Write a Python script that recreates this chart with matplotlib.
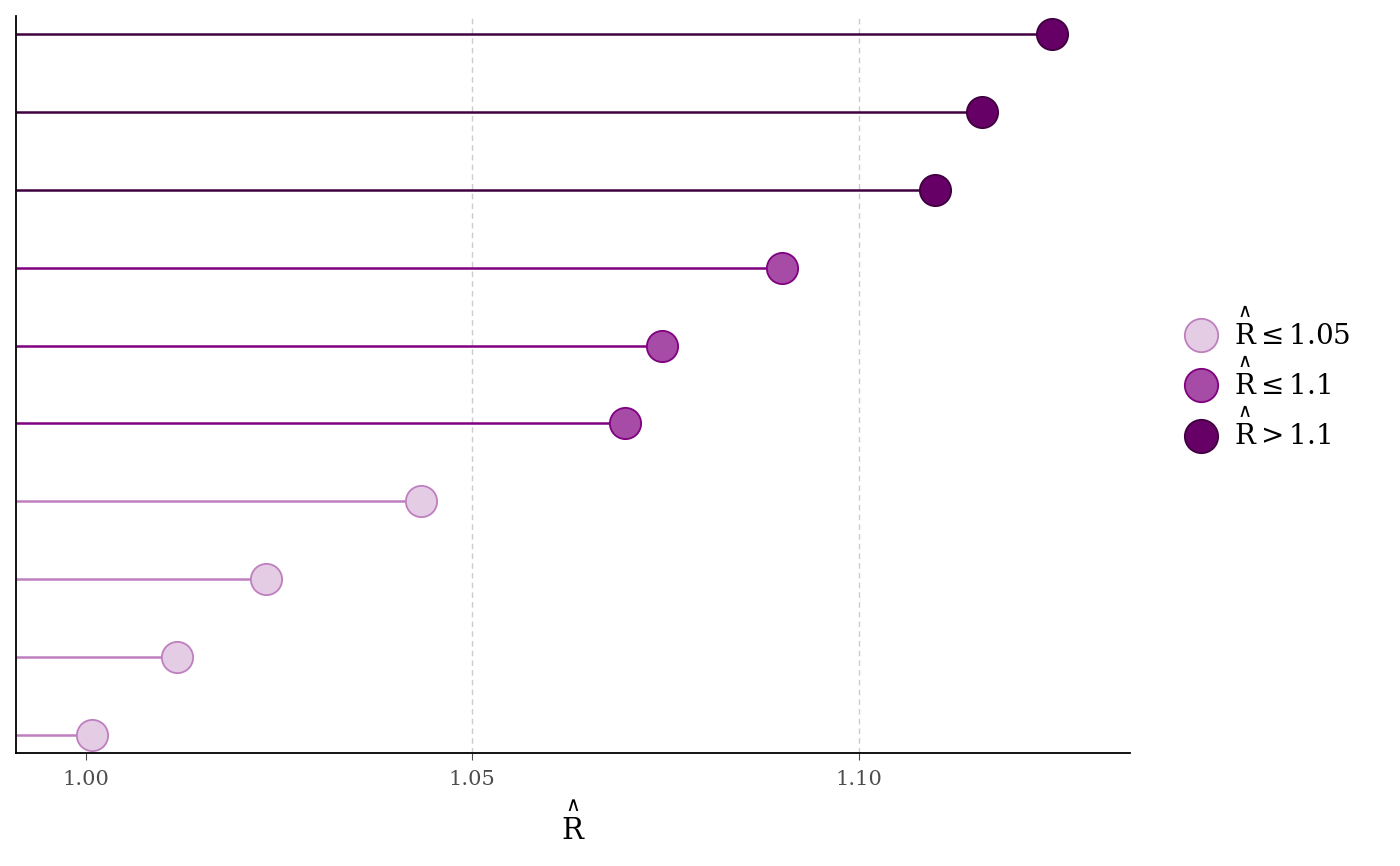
import matplotlib.pyplot as plt
from matplotlib.lines import Line2D

# R-hat values, bottom row first
rhat = [1.0008, 1.0118, 1.0234, 1.0434, 1.0698, 1.0746, 1.0901, 1.1099, 1.1159, 1.1250]
xticks = [1.00, 1.05, 1.10]
xticklabels = ["1.00", "1.05", "1.10"]
RHAT = r"\overset{\wedge}{\mathrm{R}}"
legend_labels = [rf"${RHAT} \leq 1.05$", rf"${RHAT} \leq 1.1$", rf"${RHAT} > 1.1$"]

# (fill, edge/line) for each band
band_colors = [("#e5cce5", "#bf7fbf"), ("#a64ca6", "#800080"), ("#660066", "#400040")]


def band(v):
    if v <= 1.05:
        return 0
    if v <= 1.1:
        return 1
    return 2


plt.rcParams["font.family"] = ["DejaVu Serif"]
plt.rcParams["mathtext.fontset"] = "dejavuserif"

fig = plt.figure(figsize=(14, 8.66), dpi=100)
ax = fig.add_axes([16 / 1400, 1 - 753 / 866, (1130 - 16) / 1400, (753 - 16) / 866])

xmin, xmax = 0.991, 1.1351
ax.set_xlim(xmin, xmax)
ax.set_ylim(0.77, len(rhat) + 0.23)

for g in xticks[1:]:
    ax.axvline(g, color="#cccccc", lw=1.0, ls=(0, (4, 3)), zorder=0)

for i, v in enumerate(rhat):
    fill, edge = band_colors[band(v)]
    y = i + 1
    ax.plot([xmin, v], [y, y], color=edge, lw=1.8, zorder=2, solid_capstyle="butt")
    ax.plot(v, y, "o", ms=22.5, mfc=fill, mec=edge, mew=1.3, zorder=3)

ax.set_yticks([])
ax.set_xticks(xticks)
ax.set_xticklabels(xticklabels, color="#4d4d4d", fontsize=15)
ax.tick_params(axis="x", length=5, color="#4d4d4d", width=0.8, pad=7)
ax.set_xlabel(f"${RHAT}$", fontsize=21, labelpad=10)

for s in ["top", "right"]:
    ax.spines[s].set_visible(False)
for s in ["left", "bottom"]:
    ax.spines[s].set_linewidth(1.3)

handles = [
    Line2D([0], [0], color=e, lw=1.8, marker="o", ms=24, mfc=f, mec=e, mew=1.3)
    for f, e in band_colors
]
fig.legend(handles, legend_labels, loc="center left", bbox_to_anchor=(1176 / 1400, 1 - 380 / 866),
           frameon=False, fontsize=20, handlelength=1.0, handletextpad=0.7, labelspacing=0.3,
           borderaxespad=0)

fig.savefig("out.png", dpi=100)
